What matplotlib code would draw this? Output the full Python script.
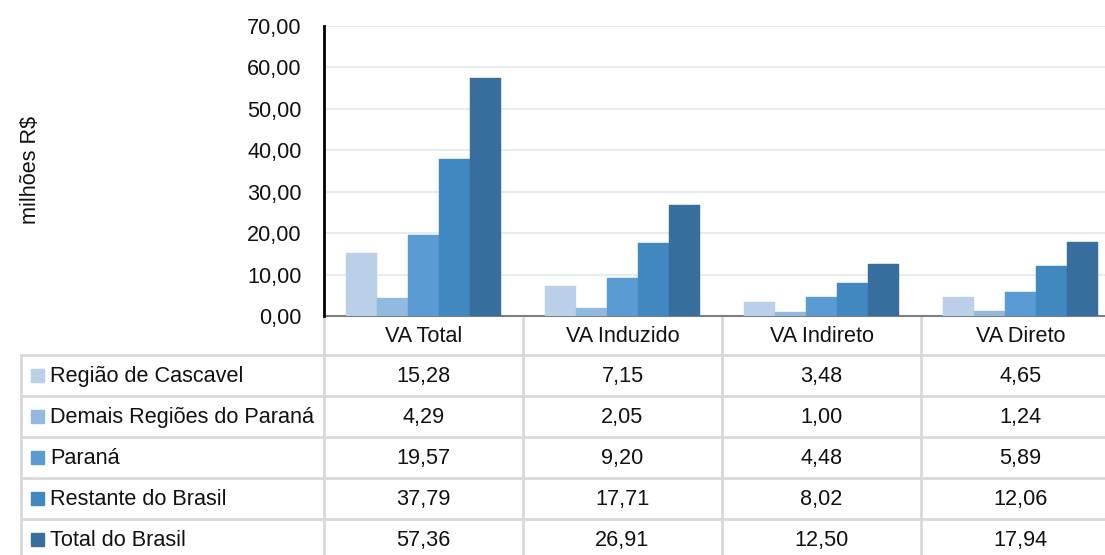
import numpy as np
import matplotlib
matplotlib.use("Agg")
import matplotlib.pyplot as plt

plt.rcParams['font.family'] = ['Liberation Sans', 'DejaVu Sans']

# data
categorias = ["VA Total", "VA Induzido", "VA Indireto", "VA Direto"]
series = ["Região de Cascavel", "Demais Regiões do Paraná", "Paraná",
          "Restante do Brasil", "Total do Brasil"]
cascavel = [15.28, 7.15, 3.48, 4.65]
demais = [4.29, 2.05, 1.00, 1.24]
parana = [19.57, 9.20, 4.48, 5.89]
restante = [37.79, 17.71, 8.02, 12.06]
total_br = [57.36, 26.91, 12.50, 17.94]
valores = [cascavel, demais, parana, restante, total_br]
cores = ["#B9D0E8", "#92BADF", "#5B9BD3", "#4187C0", "#376E9E"]
yticks = [0, 10, 20, 30, 40, 50, 60, 70]

W, H = 1105, 555
fs = 15.6
tc = "#111111"
fig = plt.figure(figsize=(W / 100, H / 100), dpi=100)

# layout in pixels
ax_left, ax_right = 324, 1120
ax_top, ax_bot = 26, 316
tab_left = 21
row_h = 41
hdr_bot = 355

ax = fig.add_axes([ax_left / W, 1 - ax_bot / H, (ax_right - ax_left) / W, (ax_bot - ax_top) / H])
x = np.arange(len(categorias))
bw = 0.156
for i, (vals, c) in enumerate(zip(valores, cores)):
    ax.bar(x + (i - 2) * bw, vals, bw, color=c, edgecolor=c, linewidth=0.3, zorder=3)

ax.set_xlim(-0.5, len(categorias) - 0.5)
ax.set_ylim(0, 70)
ax.set_yticks(yticks)
ax.set_yticklabels([("%.2f" % v).replace(".", ",") for v in yticks], fontsize=fs, color=tc)
ax.set_xticks([])
ax.tick_params(axis="y", length=0, pad=16)
ax.grid(axis="y", color="#E6EBEB", linewidth=1.5, zorder=0)
for s in ["top", "right"]:
    ax.spines[s].set_visible(False)
ax.spines["left"].set_color("black")
ax.spines["left"].set_linewidth(2)
ax.spines["left"].set_zorder(4)
ax.spines["bottom"].set_color("#7F7F7F")
ax.spines["bottom"].set_linewidth(1.5)

fig.text(31 / W, 1 - 170 / H, "milhões R$", rotation=90, fontsize=fs,
         ha="center", va="center", color=tc)

# table
tx = fig.add_axes([0, 0, 1, 1], zorder=-1)
tx.set_xlim(0, W)
tx.set_ylim(H, 0)
tx.axis("off")
gc = "#D9D9D9"
lw = 2.0
col_w = (ax_right - ax_left) / len(categorias)
col_edges = [ax_left + k * col_w for k in range(len(categorias) + 1)]

# header row
for k, nome in enumerate(categorias):
    tx.text(ax_left + (k + 0.5) * col_w, (ax_bot + hdr_bot) / 2 + 1, nome,
            fontsize=fs, ha="center", va="center", color=tc)
n_rows = len(series)
tab_bot = hdr_bot + n_rows * row_h
for xe in col_edges:
    tx.plot([xe, xe], [ax_bot, tab_bot], color=gc, lw=lw, solid_capstyle="butt")
tx.plot([tab_left, tab_left], [hdr_bot, tab_bot], color=gc, lw=lw)
for r in range(n_rows + 1):
    yy = hdr_bot + r * row_h
    tx.plot([tab_left, W], [yy, yy], color=gc, lw=lw)

for r, (nome, vals, c) in enumerate(zip(series, valores, cores)):
    yc = hdr_bot + (r + 0.5) * row_h
    tx.add_patch(plt.Rectangle((31, yc - 7), 13, 13, color=c))
    tx.text(50, yc + 1, nome, fontsize=fs, ha="left", va="center", color=tc)
    for k, v in enumerate(vals):
        tx.text(ax_left + (k + 0.5) * col_w, yc + 1, ("%.2f" % v).replace(".", ","),
                fontsize=fs, ha="center", va="center", color=tc)

fig.savefig("out.png", dpi=100)
